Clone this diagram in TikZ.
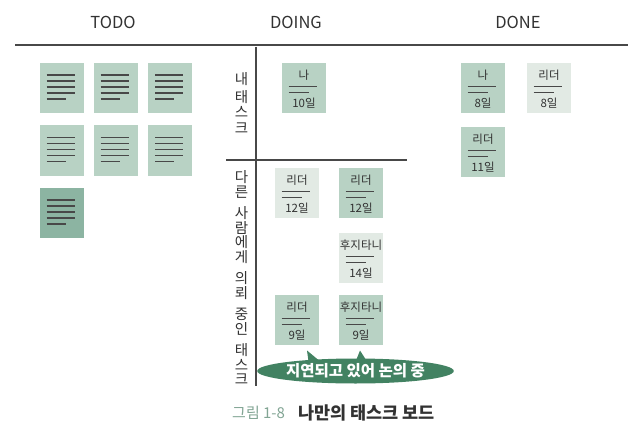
\documentclass[tikz,border=0pt]{standalone}
\usepackage{fontspec}
\setmainfont{Noto Sans CJK KR}
\usetikzlibrary{calc,shapes.geometric}
\definecolor{cardgreen}{RGB}{184,210,196}
\definecolor{carddark}{RGB}{140,180,162}
\definecolor{cardlight}{RGB}{226,234,228}
\definecolor{calloutgreen}{RGB}{66,130,98}
\definecolor{captiongreen}{RGB}{130,165,148}
\definecolor{rulegray}{RGB}{72,72,72}
\definecolor{textgray}{RGB}{50,50,50}
\tikzset{
  card/.style={minimum width=44pt,minimum height=50pt,inner sep=0pt,draw=none},
  cardline/.style={draw=rulegray,line width=1.1pt},
  header/.style={font=\fontsize{16.5}{16.5}\selectfont,text=textgray},
  cardtext/.style={font=\fontsize{11.5}{11.5}\selectfont,text=textgray,inner sep=0pt},
  vtext/.style={font=\fontsize{14.5}{14.5}\selectfont,text=textgray,align=center,inner sep=0pt},
}
\newcommand\todocard[4]{%
  \node[card,fill=#4] (#1) at (#2,#3) {};
  \foreach \dy in {-13,-7,-1,5} \draw[cardline] ($(#1.center)+(-15,\dy)$) -- ($(#1.center)+(13,\dy)$);
  \draw[cardline] ($(#1.center)+(-15,11)$) -- ($(#1.center)+(4,11)$);
}
\newcommand\taskcard[6]{%
  \node[card,fill=#4] (#1) at (#2,#3) {};
  \node[cardtext] (#1n) at ($(#1.center)+(0,-13)$) {#5};
  \draw[cardline] ($(#1.center)+(-15.5,-1.3)$) -- ($(#1.center)+(13,-1.3)$);
  \draw[cardline] ($(#1.center)+(-15.5,4.7)$) -- ($(#1.center)+(4.5,4.7)$);
  \node[cardtext] (#1d) at ($(#1.center)+(0,15)$) {#6};
}
\begin{document}
\begin{tikzpicture}[x=1pt,y=-1pt]
\useasboundingbox (0,0) rectangle (642,441);
\fill[white] (0,0) rectangle (642,441);
% headers
\node[header] (htodo) at (113,22) {TODO};
\node[header] (hdoing) at (296,22) {DOING};
\node[header] (hdone) at (518,22) {DONE};
\coordinate (rl) at (15,45);
\coordinate (rr) at (628,45);
\draw[rulegray,line width=2.6pt] (rl) -- (rr);
% DOING grid lines
\coordinate (vt) at (256,47);
\coordinate (vb) at (256,386);
\coordinate (hl) at (226,160);
\coordinate (hr) at (407,160);
\draw[rulegray,line width=1.3pt] (vt) -- (vb);
\draw[rulegray,line width=1.3pt] (hl) -- (hr);
% vertical labels
\node[vtext] (mine) at (241.5,103) {내\\[3pt]태\\[1pt]스\\[1pt]크};
\node[vtext] (others) at (241.5,278) {다\\른\\[7pt]사\\람\\에\\게\\[7pt]의\\뢰\\[7pt]중\\인\\[7pt]태\\스\\크};
% TODO cards
\todocard{t1}{61.5}{88}{cardgreen}
\todocard{t2}{115.5}{88}{cardgreen}
\todocard{t3}{170}{88}{cardgreen}
\todocard{t4}{61.5}{150.5}{cardgreen}
\todocard{t5}{115.5}{150.5}{cardgreen}
\todocard{t6}{170}{150.5}{cardgreen}
\todocard{t7}{61.5}{213}{carddark}
% DOING cards
\taskcard{d1}{304}{88}{cardgreen}{나}{10일}
\taskcard{o1}{297}{193}{cardlight}{리더}{12일}
\taskcard{o2}{361}{193}{cardgreen}{리더}{12일}
\taskcard{o3}{361}{258}{cardlight}{후지타니}{14일}
\taskcard{o4}{297}{320}{cardgreen}{리더}{9일}
\taskcard{o5}{361}{320}{cardgreen}{후지타니}{9일}
% DONE cards
\taskcard{n1}{483}{88}{cardgreen}{나}{8일}
\taskcard{n2}{549}{88}{cardlight}{리더}{8일}
\taskcard{n3}{483}{152}{cardgreen}{리더}{11일}
% callout
\coordinate (p1) at (307,350.5);
\coordinate (p2) at (360,350.5);
\fill[calloutgreen] (p1) -- (322,363) -- (309,365) -- cycle;
\fill[calloutgreen] (p2) -- (368,363) -- (355,363) -- cycle;
\node[ellipse,fill=calloutgreen,minimum width=176pt,minimum height=25pt,inner sep=0pt,
      text=white,font=\fontsize{15.5}{15.5}\selectfont\bfseries] (call) at (355.5,371) {지연되고 있어 논의 중};
% caption
\node[anchor=west,inner sep=0pt,text=captiongreen,font=\fontsize{15}{15}\selectfont] (capnum) at (232,413) {그림 1-8};
\node[anchor=west,inner sep=0pt,text=textgray,font=\fontsize{17.5}{17.5}\selectfont\bfseries] (captxt) at (298,413) {나만의 태스크 보드};
\end{tikzpicture}
\end{document}
